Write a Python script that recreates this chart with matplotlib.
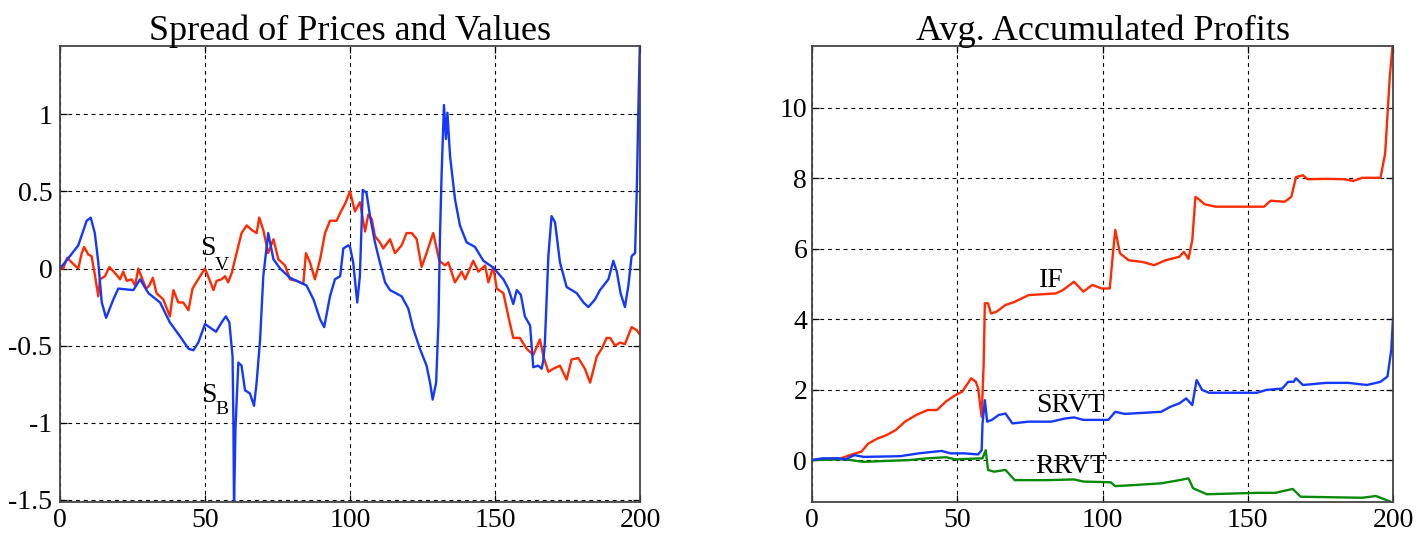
import matplotlib
matplotlib.use("Agg")
import matplotlib.pyplot as plt

# ---- Spread of prices (S_B) and values (S_V) ----
sb_x = [0, 3.4, 6.3, 9.2, 10.6, 12, 13.2, 14.4, 15.9, 18.4, 20.1, 25.3, 27.6, 30.5, 34.5,
        37.9, 41.4, 44.3, 46, 47.7, 50, 53.8, 55.7, 57.2, 58.4, 59.5, 59.8, 60, 60.5, 61.5,
        62.6, 63.8, 65.5, 66.9, 67.8, 69, 70.1, 71.8, 73.6, 75.9, 79.3, 82.8, 85, 87.4,
        89.7, 91.1, 93.1, 94.8, 96.6, 97.7, 99.4, 100, 101.1, 102.5, 103.4, 104.4, 105.7,
        106.9, 108.6, 110.3, 112.1, 113.8, 117.8, 120.1, 121.8, 124.1, 126.4, 127.6, 128.5,
        129.7, 130.5, 131, 131.6, 132.4, 133.1, 133.6, 134.5, 136.2, 137.9, 140.2, 143.1,
        146, 149.4, 152.9, 154.6, 156.3, 157.5, 158.9, 160.3, 162.1, 163.2, 164.9, 166.1,
        166.7, 167.2, 168.4, 169.5, 170.7, 172.4, 174.7, 178.2, 180.5, 182.2, 184.5, 186.2,
        189.1, 190.8, 192, 193.3, 194.8, 196, 197.1, 198.3, 198.9, 199.4, 200]
sb_y = [0, 0.08, 0.15, 0.31, 0.33, 0.23, 0.04, -0.22, -0.32, -0.2, -0.13, -0.14, -0.07,
        -0.16, -0.22, -0.35, -0.44, -0.52, -0.53, -0.48, -0.36, -0.41, -0.35, -0.31, -0.35,
        -0.57, -1.0, -1.56, -1.04, -0.61, -0.63, -0.79, -0.81, -0.89, -0.74, -0.46, -0.05,
        0.23, 0.06, 0.0, -0.06, -0.09, -0.11, -0.2, -0.33, -0.38, -0.18, -0.07, -0.05, 0.13,
        0.15, 0.14, 0.04, -0.22, -0.05, 0.51, 0.49, 0.34, 0.17, 0.04, -0.09, -0.14, -0.18,
        -0.26, -0.39, -0.52, -0.63, -0.74, -0.85, -0.74, -0.35, 0.19, 0.62, 1.06, 0.84, 1.01,
        0.73, 0.45, 0.28, 0.17, 0.14, 0.05, 0.006, -0.07, -0.13, -0.23, -0.14, -0.17, -0.31,
        -0.37, -0.64, -0.63, -0.65, -0.59, -0.48, 0.08, 0.34, 0.30, 0.04, -0.12, -0.16, -0.22,
        -0.25, -0.2, -0.14, -0.07, 0.05, -0.02, -0.16, -0.25, -0.11, 0.08, 0.10, 0.51, 1.0,
        1.5]

sv_x = [0, 1.1, 2.5, 4, 6.3, 7.5, 8.3, 9.8, 10.9, 12.1, 13.2, 13.8, 15.5, 17, 19, 20.7,
        21.8, 23, 24.7, 25.9, 27, 28.2, 29.7, 30.8, 32, 33.3, 35.6, 37.9, 39.1, 40.8, 42.5,
        44.3, 45.7, 48.3, 50, 51.7, 52.9, 54, 55.7, 56.9, 58, 59.2, 60.9, 62.6, 64.4, 66.1,
        67.8, 68.7, 70.1, 71.8, 73.6, 75.3, 77.6, 79.3, 81.6, 83.9, 84.8, 86.2, 87.9, 89.7,
        91.4, 93.1, 95.4, 96.6, 98.3, 100, 101.7, 103.4, 105.2, 106.3, 107.5, 108.6, 110.3,
        111.5, 113.8, 115.5, 117.8, 119.5, 121.3, 123, 124.7, 126.4, 128.7, 130.8, 132.8,
        133.9, 136.2, 138.5, 139.7, 142.5, 144.3, 146.6, 147.7, 149.4, 150.6, 152.9, 154.6,
        156.3, 158.6, 160.9, 163.2, 165.5, 166.7, 168.4, 170.1, 172.4, 174.7, 176.4, 178.7,
        181, 182.8, 185.1, 186.8, 188.5, 189.7, 191.4, 193.1, 194.8, 197.1, 198.9, 200]
sv_y = [0, 0, 0.07, 0.04, 0, 0.1, 0.14, 0.09, 0.08, -0.05, -0.18, -0.07, -0.05, 0.01,
        -0.03, -0.07, -0.02, -0.08, -0.07, -0.11, 0, -0.06, -0.13, -0.11, -0.06, -0.16,
        -0.2, -0.31, -0.14, -0.22, -0.22, -0.27, -0.13, -0.05, 0, -0.08, -0.14, -0.08,
        -0.07, -0.05, -0.09, -0.03, 0.1, 0.23, 0.28, 0.25, 0.23, 0.33, 0.25, 0.1, 0.19, 0.06,
        0.02, -0.07, -0.08, -0.1, 0.1, 0.04, -0.07, 0.06, 0.23, 0.31, 0.31, 0.36, 0.42, 0.5,
        0.37, 0.43, 0.24, 0.35, 0.32, 0.21, 0.17, 0.13, 0.19, 0.1, 0.15, 0.23, 0.23, 0.19,
        0.01, 0.1, 0.23, 0.05, 0.02, 0.04, -0.09, -0.02, -0.07, 0.05, -0.02, 0.02, -0.09,
        0.01, -0.13, -0.16, -0.31, -0.45, -0.45, -0.52, -0.56, -0.46, -0.57, -0.67, -0.65,
        -0.63, -0.72, -0.59, -0.58, -0.65, -0.74, -0.57, -0.52, -0.45, -0.45, -0.5, -0.48,
        -0.49, -0.38, -0.4, -0.43]

# ---- Average accumulated profits ----
if_x = [0, 10, 13, 17, 19.4, 22.5, 25.7, 28.8, 32, 35.9, 39.8, 43, 46.1, 49.3, 51.7, 54.8,
        56.4, 57.2, 58.4, 59.1, 59.5, 60.6, 61.6, 63.5, 66.6, 69.8, 74.5, 83.9, 86.3, 90.2,
        93.4, 96.5, 99.7, 102.5, 103.6, 104.4, 106, 109, 113.9, 117.8, 121.7, 126.5, 128,
        129.6, 130.9, 132, 133.5, 135.1, 139, 155.6, 157.9, 162.7, 165, 166.6, 169, 170.6,
        176.9, 183.2, 186.3, 189.4, 195.7, 197.3, 198.9, 200]
if_y = [0, 0.05, 0.14, 0.24, 0.47, 0.61, 0.71, 0.85, 1.09, 1.28, 1.42, 1.42, 1.66, 1.84,
        1.94, 2.32, 2.22, 2.03, 1.23, 2.74, 4.45, 4.45, 4.16, 4.21, 4.4, 4.49, 4.68, 4.73,
        4.82, 5.06, 4.78, 4.97, 4.87, 4.87, 5.87, 6.53, 5.87, 5.67, 5.62, 5.53, 5.67, 5.77,
        5.91, 5.71, 6.24, 7.47, 7.38, 7.26, 7.19, 7.19, 7.36, 7.33, 7.47, 8.03, 8.08, 7.97,
        7.98, 7.97, 7.92, 8.01, 8.01, 8.7, 10.88, 11.9]

srvt_x = [0, 3.6, 9.1, 11.5, 14.6, 17.8, 30.4, 36.7, 44.6, 47.7, 52.4, 57.2, 58.4, 58.7,
          59.5, 60.3, 61.9, 64.3, 66.6, 69, 74.5, 82.4, 87.1, 90.2, 93.4, 102, 104.4, 107.6,
          120.2, 123.3, 126.5, 128.8, 130.9, 132.4, 134.3, 136.7, 153.2, 156.4, 161.9,
          163.9, 165.8, 166.6, 169, 176.9, 184.7, 191, 195.7, 198.1, 199.4, 200]
srvt_y = [0, 0.05, 0.05, 0.02, 0.14, 0.09, 0.11, 0.19, 0.26, 0.19, 0.19, 0.16, 0.28, 1.04,
          1.7, 1.09, 1.14, 1.28, 1.32, 1.04, 1.09, 1.09, 1.18, 1.21, 1.14, 1.14, 1.37, 1.31,
          1.37, 1.51, 1.61, 1.75, 1.56, 2.27, 1.99, 1.91, 1.91, 1.99, 2.03, 2.22, 2.22,
          2.32, 2.13, 2.19, 2.19, 2.13, 2.22, 2.37, 3.12, 4.02]

rrvt_x = [0, 11.5, 17.8, 33.5, 39.8, 46.1, 49.3, 58.7, 59.8, 60.6, 62.7, 66.6, 69.8, 80.8,
          90.2, 93.4, 102.8, 104.4, 110.7, 120.2, 126.5, 129.6, 131.2, 135.9, 153.2, 159.5,
          162.7, 165.5, 168.2, 189.4, 194.1, 197.3, 200]
rrvt_y = [0, 0.02, -0.05, 0, 0.05, 0.08, 0.02, 0.05, 0.28, -0.28, -0.33, -0.28, -0.57,
          -0.57, -0.55, -0.61, -0.63, -0.74, -0.71, -0.66, -0.57, -0.52, -0.8, -0.97, -0.93,
          -0.93, -0.87, -0.82, -1.04, -1.07, -1.02, -1.12, -1.21]

x_ticks = [0, 50, 100, 150, 200]
left_yticks = [-1.5, -1, -0.5, 0, 0.5, 1]
left_yticklabels = ["-1.5", "-1", "-0.5", "0", "0.5", "1"]
right_yticks = [0, 2, 4, 6, 8, 10]

RED = "#ff2a00"
BLUE = "#1438ff"
GREEN = "#0a8a0a"

plt.rcParams["font.family"] = ["Liberation Serif", "DejaVu Serif"]
plt.rcParams["axes.unicode_minus"] = False

fig = plt.figure(figsize=(14.25, 5.41), dpi=100)
ax1 = fig.add_axes([60 / 1425, 1 - 502 / 541, 580 / 1425, 456 / 541])
ax2 = fig.add_axes([812 / 1425, 1 - 502 / 541, 581 / 1425, 456 / 541])


def style(ax, ypad):
    ax.grid(True, color="black", linestyle=(0, (3.5, 3.5)), linewidth=0.8)
    ax.set_axisbelow(True)
    ax.tick_params(direction="in", length=5, width=0.9, top=True, right=True,
                   labelsize=20, colors="black")
    ax.tick_params(axis="x", pad=4)
    ax.tick_params(axis="y", pad=ypad)
    for s in ax.spines.values():
        s.set_color("#444444")
        s.set_linewidth(1.3)
    ax.set_xlim(0, 200)
    ax.set_xticks(x_ticks)
    ax.set_xticklabels([str(t) for t in x_ticks])


# Left: spreads
ax1.plot(sv_x, sv_y, color=RED, lw=1.7)
ax1.plot(sb_x, sb_y, color=BLUE, lw=1.7)
style(ax1, 5.5)
ax1.set_ylim(-1.514, 1.443)
ax1.set_yticks(left_yticks)
ax1.set_yticklabels(left_yticklabels)
ax1.set_title("Spread of Prices and Values", fontsize=26, pad=4)

ax1.text(48.3, 0.088, "S", fontsize=20, va="baseline", ha="left")
ax1.annotate("V", xy=(48.3, 0.088), xytext=(10.8, -10.5), textcoords="offset points",
             fontsize=14, va="baseline", ha="left")
ax1.text(48.6, -0.866, "S", fontsize=20, va="baseline", ha="left")
ax1.annotate("B", xy=(48.6, -0.866), xytext=(10.3, -8.5), textcoords="offset points",
             fontsize=14, va="baseline", ha="left")

# Right: accumulated profits
ax2.plot(if_x, if_y, color=RED, lw=1.7)
ax2.plot(rrvt_x, rrvt_y, color=GREEN, lw=1.7)
ax2.plot(srvt_x, srvt_y, color=BLUE, lw=1.7)
style(ax2, 3.5)
ax2.set_ylim(-1.19, 11.75)
ax2.set_yticks(right_yticks)
ax2.set_yticklabels([str(t) for t in right_yticks])
ax2.set_title("Avg. Accumulated Profits", fontsize=26, pad=4)

ax2.text(78.1, 4.91, "IF", fontsize=20, va="baseline", ha="left")
ax2.text(77.1, 1.37, "SRVT", fontsize=20, va="baseline", ha="left")
ax2.text(76.8, -0.37, "RRVT", fontsize=20, va="baseline", ha="left")

fig.savefig("out.png", dpi=100, facecolor="white")
